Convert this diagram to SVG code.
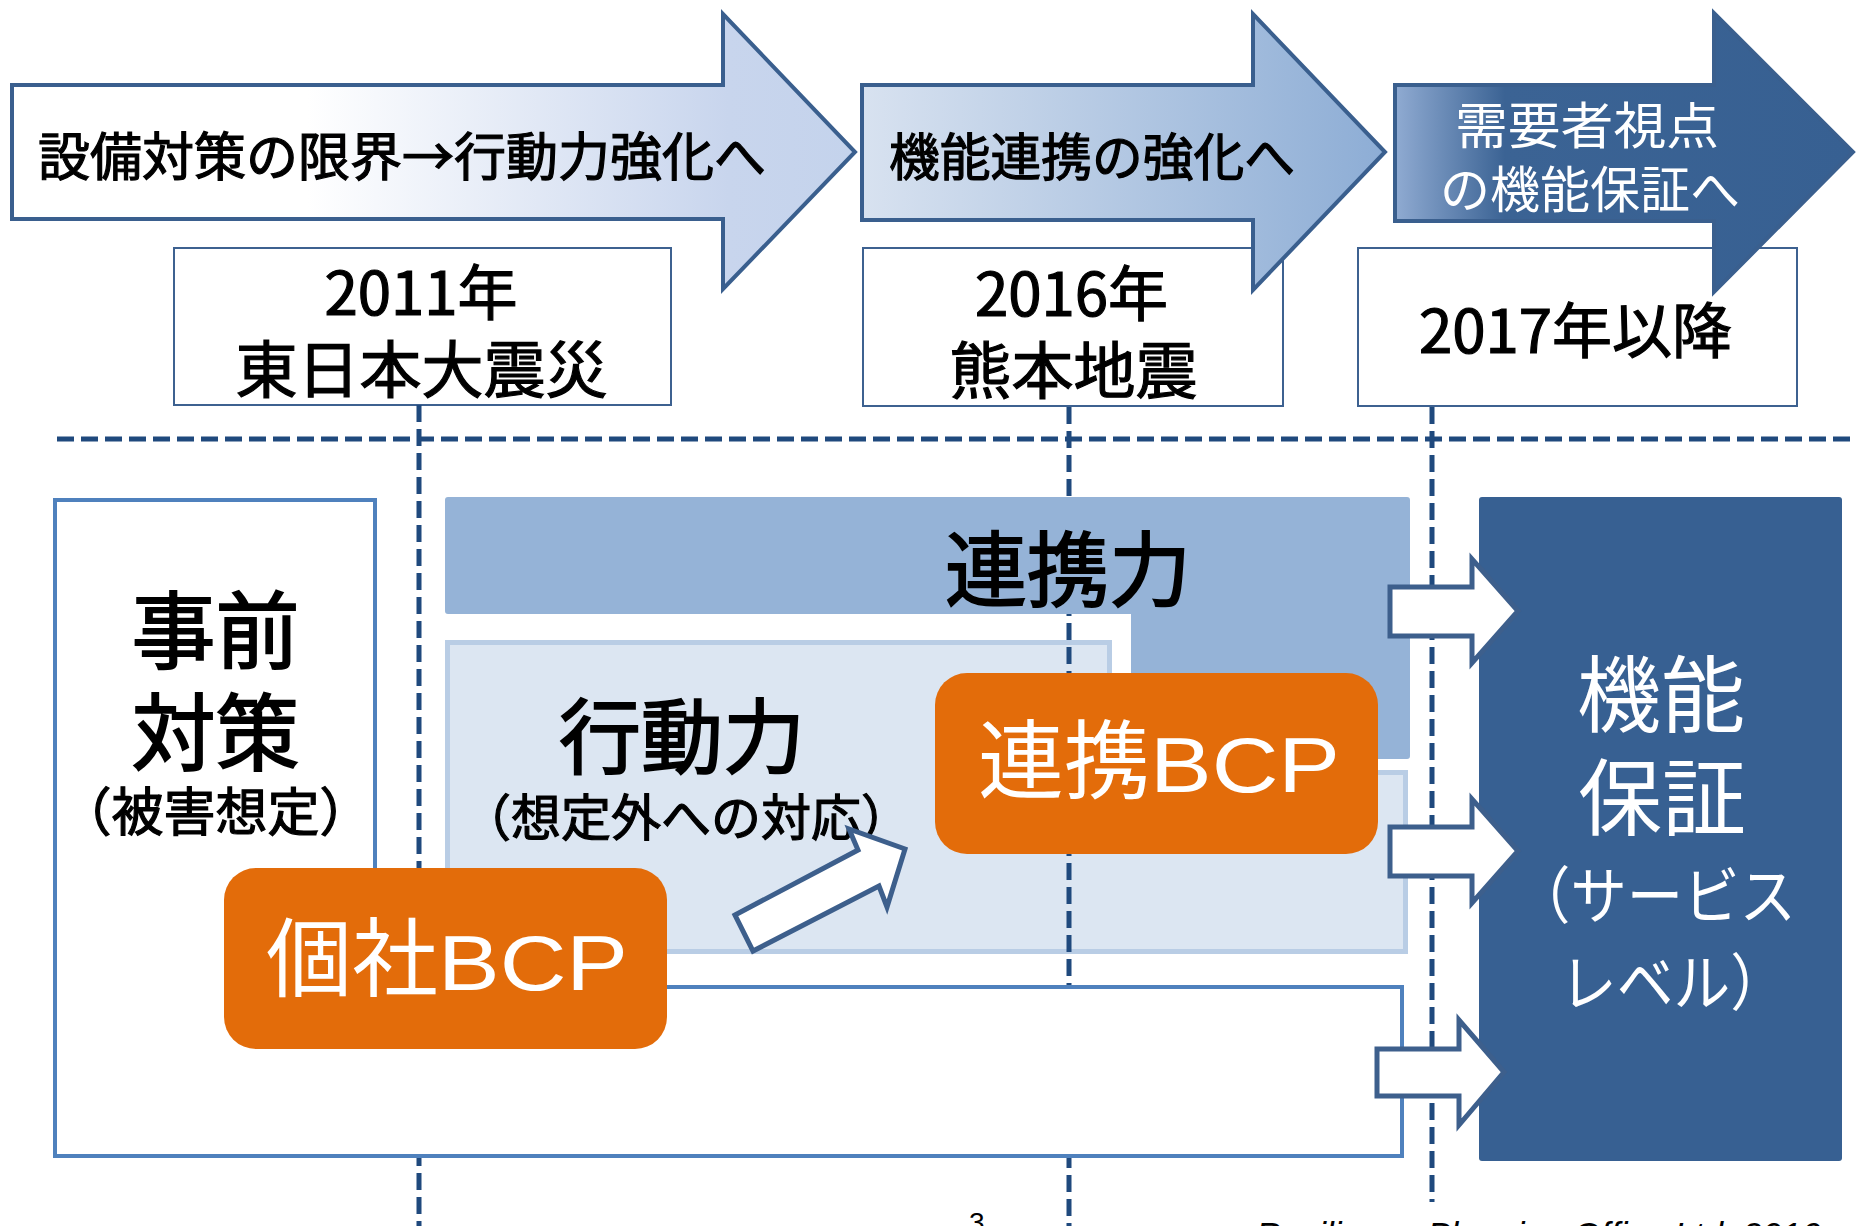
<svg xmlns="http://www.w3.org/2000/svg" width="1857" height="1226" viewBox="0 0 1857 1226">
<style>
.jp{font-family:"Noto Sans CJK JP","Noto Sans",sans-serif;}
.lat{font-family:"Liberation Sans",Arial,sans-serif;}
.yearbox{fill:#ffffff;stroke:#3d6190;stroke-width:2;}
.tarrow{stroke:#3a5f8e;stroke-width:4;stroke-linejoin:miter;}
.dash{fill:none;stroke:#1f497d;stroke-width:5;stroke-dasharray:17 7;}
.warrow{fill:#ffffff;stroke:#3d5f8c;stroke-width:5;stroke-linejoin:miter;}
.bcp{fill:#e36c0a;}
.blk{fill:#000000;stroke:#000000;stroke-width:1.2;}
.big{stroke-width:1.8;}
.wht{fill:#ffffff;}
</style>
<defs>
<linearGradient id="g1" x1="0" y1="0" x2="1" y2="0">
<stop offset="0" stop-color="#ffffff"/>
<stop offset="0.35" stop-color="#ffffff"/>
<stop offset="0.85" stop-color="#c8d5ed"/>
<stop offset="1" stop-color="#c4d3ec"/>
</linearGradient>
<linearGradient id="g2" x1="0" y1="0" x2="1" y2="0">
<stop offset="0" stop-color="#d8e2f0"/>
<stop offset="1" stop-color="#8dadd5"/>
</linearGradient>
<linearGradient id="g3" x1="0" y1="0" x2="1" y2="0">
<stop offset="0" stop-color="#90abd2"/>
<stop offset="0.24" stop-color="#3b6394"/>
<stop offset="1" stop-color="#376092"/>
</linearGradient>
</defs>
<rect x="0" y="0" width="1857" height="1226" fill="#ffffff"/>

<g id="year2011">
<rect class="yearbox" x="174" y="248" width="497" height="157"/>
<text class="jp blk" x="421" y="315" font-size="60" text-anchor="middle">2011年</text>
<text class="jp blk" x="421.5" y="393" font-size="62" text-anchor="middle">東日本大震災</text>
</g>
<g id="year2016">
<rect class="yearbox" x="863" y="248" width="420" height="158"/>
<text class="jp blk" x="1071.5" y="316" font-size="60" text-anchor="middle">2016年</text>
<text class="jp blk" x="1073.5" y="394" font-size="62" text-anchor="middle">熊本地震</text>
</g>
<g id="year2017">
<rect class="yearbox" x="1358" y="248" width="439" height="158"/>
<text class="jp blk" x="1575.5" y="353" font-size="60" text-anchor="middle">2017年以降</text>
</g>

<g id="phase1">
<path class="tarrow" fill="url(#g1)" d="M12,85 L723,85 L723,14 L855,152 L723,289 L723,219 L12,219 Z"/>
<text class="jp blk" x="38" y="176" font-size="52" textLength="728" lengthAdjust="spacingAndGlyphs">設備対策の限界→行動力強化へ</text>
</g>
<g id="phase2">
<path class="tarrow" fill="url(#g2)" d="M862,85 L1253,85 L1253,14 L1385,152 L1253,290 L1253,220 L862,220 Z"/>
<text class="jp blk" x="889" y="176" font-size="51" textLength="406" lengthAdjust="spacingAndGlyphs">機能連携の強化へ</text>
</g>
<g id="phase3">
<path class="tarrow" fill="url(#g3)" d="M1395,85 L1714,85 L1714,13 L1853,152 L1714,292 L1714,221 L1395,221 Z"/>
<text class="jp wht" x="1455" y="144" font-size="50" textLength="264" lengthAdjust="spacingAndGlyphs">需要者視点</text>
<text class="jp wht" x="1440" y="208" font-size="50" textLength="300" lengthAdjust="spacingAndGlyphs">の機能保証へ</text>
</g>

<g id="koudouryoku-area">
<path fill="#dce6f2" stroke="#b9cde5" stroke-width="5" d="M447.5,642.5 H1109.5 V772.5 H1405.5 V951.5 H447.5 Z"/>
</g>

<g id="connectors">
<line class="dash" x1="57" y1="439" x2="1857" y2="439"/>
<line class="dash" x1="419" y1="405" x2="419" y2="1226"/>
<line class="dash" x1="1069" y1="407" x2="1069" y2="1226"/>
<line class="dash" x1="1432" y1="407" x2="1432" y2="1202"/>
</g>

<g id="jizen">
<path fill="#ffffff" stroke="#4f81bd" stroke-width="4" d="M55,500 H375 V987 H1402 V1156 H55 Z"/>
<text class="jp blk big" x="215.5" y="662" font-size="84" text-anchor="middle">事前</text>
<text class="jp blk big" x="215.5" y="764" font-size="84" text-anchor="middle">対策</text>
<text class="jp blk" x="215.5" y="831" font-size="52" text-anchor="middle">（被害想定）</text>
</g>

<g id="renkeiryoku">
<path fill="#95b3d7" d="M448,497 H1407 Q1410,497 1410,500 V756 Q1410,759 1407,759 H1131 V614 H448 Q445,614 445,611 V500 Q445,497 448,497 Z"/>
<text class="jp blk big" x="1068" y="600" font-size="82" text-anchor="middle">連携力</text>
</g>

<g id="koudouryoku-text">
<text class="jp blk big" x="682" y="767" font-size="82" text-anchor="middle">行動力</text>
<text class="jp blk" x="686" y="836" font-size="50" text-anchor="middle">（想定外への対応）</text>
</g>

<g id="kinou">
<rect x="1479" y="497" width="363" height="664" rx="3" fill="#376092"/>
<text class="jp wht" x="1661" y="726" font-size="84" text-anchor="middle">機能</text>
<text class="jp wht" x="1662" y="829" font-size="84" text-anchor="middle">保証</text>
<text class="jp wht" x="1514" y="919" font-size="62" textLength="282" lengthAdjust="spacingAndGlyphs">（サービス</text>
<text class="jp wht" x="1560" y="1006" font-size="62" textLength="227" lengthAdjust="spacingAndGlyphs">レベル）</text>
</g>

<g id="kosha-bcp">
<rect class="bcp" x="224" y="868" width="443" height="181" rx="32"/>
<text class="jp wht" x="266" y="990" font-size="86">個社<tspan class="lat" font-size="77" textLength="190" lengthAdjust="spacingAndGlyphs">BCP</tspan></text>
</g>
<g id="renkei-bcp">
<rect class="bcp" x="935" y="673" width="443" height="181" rx="32"/>
<text class="jp wht" x="978" y="792" font-size="86">連携<tspan class="lat" font-size="77" textLength="190" lengthAdjust="spacingAndGlyphs">BCP</tspan></text>
</g>

<g id="arrows">
<path class="warrow" d="M1390,587 L1472,587 L1472,559 L1518,611 L1472,663 L1472,636 L1390,636 Z"/>
<path class="warrow" d="M1390,827 L1472,827 L1472,799 L1518,851 L1472,903 L1472,876 L1390,876 Z"/>
<path class="warrow" d="M1377,1049 L1459,1049 L1459,1020 L1504,1072 L1459,1125 L1459,1096 L1377,1096 Z"/>
<path class="warrow" d="M735,915 L858,850 L849,829 L905,849 L887,907 L879,886 L753,951 Z"/>
</g>

<g id="footer">
<text class="lat" fill="#000000" x="969" y="1232" font-size="28">3</text>
<text class="lat" fill="#000000" x="1256" y="1247" font-size="35" font-style="italic">Resilience Planning Office Ltd. 2016</text>
</g>
</svg>
